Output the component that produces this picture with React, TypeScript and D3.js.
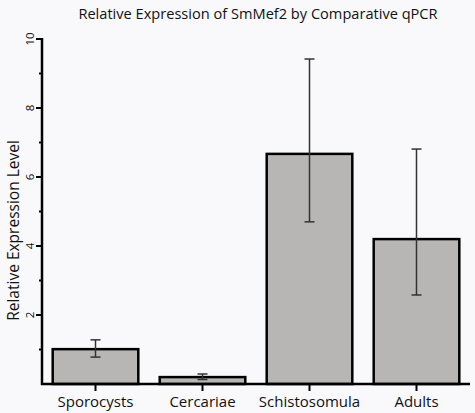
import React from "react";
import * as d3 from "d3";

const categories = ["Sporocysts", "Cercariae", "Schistosomula", "Adults"];
const values = [1.01, 0.2, 6.67, 4.2];
const errLow = [0.78, 0.13, 4.7, 2.58];
const errHigh = [1.28, 0.29, 9.42, 6.81];
const majorTicks = [2, 4, 6, 8, 10];
const minorTicks = [1, 3, 5, 7, 9];

const W = 475, H = 413;
const left = 42, right = 470, top = 39, bottom = 384;

export default function App() {
  const x = d3.scaleBand<string>().domain(categories).range([left, right]).paddingInner(0.2).paddingOuter(0.1);
  const y = d3.scaleLinear().domain([0, 10]).range([bottom, top]);
  const font = "'Open Sans', sans-serif";
  return (
    <div style={{ position: "fixed", left: 0, top: 0 }}>
      <svg width={W} height={H} style={{ display: "block", background: "#f9f9fb" }}>
        <text x={258} y={19} textAnchor="middle" fontFamily={font} fontSize={14.6} fill="#111">
          Relative Expression of SmMef2 by Comparative qPCR
        </text>
        <text transform={`translate(19,${(top + bottom) / 2 + 19}) rotate(-90)`} textAnchor="middle" fontFamily={font} fontSize={15.5} fill="#111">
          Relative Expression Level
        </text>
        {categories.map((c, i) => {
          const bx = x(c)!;
          const bw = x.bandwidth();
          const cx = bx + bw / 2;
          return (
            <g key={c}>
              <rect x={bx} y={y(values[i])} width={bw} height={y(0) - y(values[i])} fill="#b7b6b4" stroke="#000" strokeWidth={2.5} />
              <line x1={cx} x2={cx} y1={y(errLow[i])} y2={y(errHigh[i])} stroke="#333" strokeWidth={1.5} />
              <line x1={cx - 5} x2={cx + 5} y1={y(errLow[i])} y2={y(errLow[i])} stroke="#333" strokeWidth={1.5} />
              <line x1={cx - 5} x2={cx + 5} y1={y(errHigh[i])} y2={y(errHigh[i])} stroke="#333" strokeWidth={1.5} />
              <line x1={cx} x2={cx} y1={bottom} y2={bottom + 7} stroke="#000" strokeWidth={2} />
              <text x={cx} y={407} textAnchor="middle" fontFamily={font} fontSize={15} fill="#111">{c}</text>
            </g>
          );
        })}
        <line x1={left} x2={left} y1={top - 1} y2={bottom + 1} stroke="#000" strokeWidth={2.5} />
        <line x1={left - 1} x2={right} y1={bottom} y2={bottom} stroke="#000" strokeWidth={2.5} />
        {majorTicks.map((t) => (
          <g key={t}>
            <line x1={left - 6} x2={left} y1={y(t)} y2={y(t)} stroke="#000" strokeWidth={2} />
            <text transform={`translate(${left - 8},${y(t)}) rotate(-90)`} textAnchor="middle" fontFamily={font} fontSize={11.5} fill="#111">{t}</text>
          </g>
        ))}
        {minorTicks.map((t) => (
          <line key={t} x1={left - 3} x2={left} y1={y(t)} y2={y(t)} stroke="#000" strokeWidth={2} />
        ))}
      </svg>
    </div>
  );
}
